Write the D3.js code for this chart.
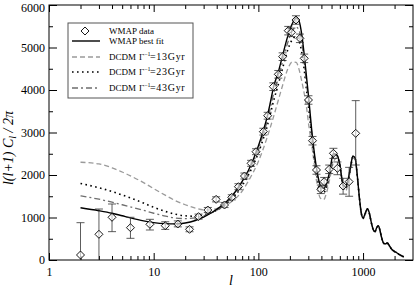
<!DOCTYPE html>
<html>
<head>
<meta charset="utf-8">
<script src="https://cdn.jsdelivr.net/npm/d3@7"></script>
<style>
  body { margin: 0; background: #fff; }
  svg { display: block; }
  text { font-family: "Liberation Serif", "Times New Roman", serif; }
</style>
</head>
<body>
<div id="chart"></div>
<script>
var width = 415;
var height = 288;

// WMAP binned data: multipole, value, error low / high
var dataL  = [2, 3, 4, 6, 9.2, 12.9, 17, 22, 26.8, 32.9, 39.5, 47.5, 55.7, 64.5, 73.6, 85.2, 95,
  111.6, 122.7, 139, 155, 170.5, 193, 207, 228.6, 249.5, 274, 301, 329, 359, 395, 425, 475, 521, 569, 645, 736, 851];
var dataV  = [118, 605, 1005, 760, 840, 807, 847, 722, 1020, 1176, 1427, 1294, 1475, 1725, 1976, 2275, 2548,
  3020, 3395, 4078, 4369, 4784, 5396, 5357, 5647, 5216, 4745, 3765, 2807, 2118, 1663, 1843, 2134, 2510, 2157, 1741, 1843, 2980];
var dataLo = [-700, -100, 667, 510, 706, 720, 780, 665, 960, 1116, 1367, 1234, 1415, 1655, 1906, 2205, 2478,
  2940, 3315, 3988, 4279, 4694, 5296, 5257, 5547, 5116, 4645, 3665, 2707, 2018, 1563, 1743, 2034, 2390, 2007, 1550, 1500, 2235];
var dataHi = [878, 1200, 1318, 1005, 957, 900, 920, 780, 1080, 1236, 1487, 1354, 1535, 1795, 2046, 2345, 2618,
  3100, 3475, 4168, 4459, 4874, 5496, 5457, 5747, 5316, 4845, 3865, 2907, 2218, 1763, 1943, 2234, 2628, 2307, 1922, 2180, 3750];

// model curves, sampled on a common multipole grid
var curveL = [2, 3, 4, 5, 6, 8, 10, 13, 16, 20, 25, 30, 35, 40, 50, 60, 70, 80, 90, 100,
  110, 120, 130, 140, 155, 170, 190, 210, 230, 245, 260, 275, 290, 300, 330, 360, 390, 420, 450, 480,
  520, 560, 600, 640, 680, 720, 760, 800, 840, 880, 920, 960, 1000, 1050, 1100, 1150, 1200, 1250, 1300, 1350,
  1400, 1450, 1500, 1580, 1650, 1700, 1800, 1900, 2000, 2100, 2250, 2450];
var bestFit = [1230, 1160, 1100, 1040, 990, 920, 880, 855, 850, 870, 930, 1010, 1100, 1190, 1380, 1600, 1850, 2100, 2380, 2680,
  3000, 3320, 3700, 4080, 4420, 4800, 5250, 5550, 5700, 5620, 5300, 4800, 4250, 3900, 2850, 2150, 1760, 1680, 1820, 2080,
  2500, 2480, 2250, 1800, 1720, 1900, 2200, 2450, 2400, 2000, 1500, 1120, 990, 1100, 1210, 1100, 880, 720, 670, 760,
  810, 700, 540, 390, 380, 405, 320, 240, 200, 170, 120, 75];
var dcdm13 = [2300, 2260, 2170, 2070, 1980, 1820, 1680, 1520, 1400, 1300, 1220, 1180, 1180, 1210, 1300, 1440, 1620, 1850, 2080, 2320,
  2580, 2850, 3120, 3380, 3760, 4100, 4480, 4660, 4650, 4480, 4200, 3900, 3550, 3250, 2550, 1850, 1460, 1420, 1600, 1900,
  2300, 2400, 2200, 1780, 1620, 1800, 2130, 2400, 2380, 1980, 1480, 1100, 970, 1080, 1190, 1080, 870, 710, 660, 750,
  800, 690, 530, 385, 375, 400, 315, 235, 195, 165, 118, 74];
var dcdm23 = [1800, 1700, 1610, 1530, 1460, 1340, 1240, 1140, 1080, 1040, 1030, 1060, 1110, 1170, 1330, 1520, 1750, 1990, 2250, 2520,
  2810, 3110, 3430, 3750, 4130, 4500, 4930, 5180, 5260, 5150, 4880, 4450, 3950, 3650, 2700, 2020, 1640, 1580, 1740, 2010,
  2420, 2460, 2230, 1790, 1700, 1860, 2170, 2430, 2390, 1990, 1490, 1110, 980, 1090, 1200, 1090, 875, 715, 665, 755,
  805, 695, 535, 388, 378, 402, 318, 238, 198, 168, 119, 75];
var dcdm43 = [1510, 1430, 1360, 1300, 1250, 1170, 1100, 1030, 990, 975, 990, 1040, 1100, 1170, 1350, 1560, 1800, 2050, 2320, 2600,
  2910, 3220, 3570, 3920, 4280, 4660, 5100, 5380, 5480, 5400, 5100, 4620, 4100, 3780, 2780, 2080, 1700, 1630, 1780, 2050,
  2460, 2480, 2240, 1800, 1710, 1880, 2190, 2440, 2395, 1995, 1495, 1115, 985, 1095, 1205, 1095, 878, 718, 668, 758,
  808, 698, 538, 389, 379, 404, 319, 239, 199, 169, 120, 75];

var xMajor = [1, 10, 100, 1000];
var yMajor = [0, 1000, 2000, 3000, 4000, 5000, 6000];

var legendLabels = ["WMAP data", "WMAP best fit", "13Gyr", "23Gyr", "43Gyr"];

var plot = {left: 49, right: 413, top: 5, bottom: 260};

var x = d3.scaleLog().domain([1, 3000]).range([plot.left, plot.right]);
var y = d3.scaleLinear().domain([0, 6000]).range([plot.bottom, plot.top]);

var svg = d3.select("#chart")
  .append("svg")
  .attr("width", width)
  .attr("height", height);

svg.append("defs").append("clipPath")
  .attr("id", "clip")
  .append("rect")
  .attr("x", plot.left).attr("y", plot.top)
  .attr("width", plot.right - plot.left)
  .attr("height", plot.bottom - plot.top);

// minor tick values
var xMinor = [];
[1, 10, 100, 1000].forEach(function (dec) {
  for (var k = 2; k <= 9; k++) {
    if (dec * k < 3000) xMinor.push(dec * k);
  }
});
var yMinor = d3.range(500, 6000, 1000);

function styleAxis(g) {
  g.select(".domain").remove();
  g.selectAll("line").attr("stroke", "#000");
  g.selectAll("text").attr("font-size", 12).attr("fill", "#000");
}

// bottom
svg.append("g").attr("transform", "translate(0," + plot.bottom + ")")
  .call(d3.axisBottom(x).tickValues(xMajor).tickSize(-7).tickPadding(7).tickFormat(d3.format("d")))
  .call(styleAxis);
svg.append("g").attr("transform", "translate(0," + plot.bottom + ")")
  .call(d3.axisBottom(x).tickValues(xMinor).tickSize(-4).tickFormat(""))
  .call(styleAxis);
// top
svg.append("g").attr("transform", "translate(0," + plot.top + ")")
  .call(d3.axisTop(x).tickValues(xMajor).tickSize(-7).tickFormat(""))
  .call(styleAxis);
svg.append("g").attr("transform", "translate(0," + plot.top + ")")
  .call(d3.axisTop(x).tickValues(xMinor).tickSize(-4).tickFormat(""))
  .call(styleAxis);
// left
var yAxisG = svg.append("g").attr("transform", "translate(" + plot.left + ",0)")
  .call(d3.axisLeft(y).tickValues(yMajor).tickSize(-8).tickPadding(4).tickFormat(d3.format("d")))
  .call(styleAxis);
// keep the top label inside the picture
yAxisG.selectAll(".tick text").filter(function (d) { return d === 6000; }).attr("dy", "0.55em");
svg.append("g").attr("transform", "translate(" + plot.left + ",0)")
  .call(d3.axisLeft(y).tickValues(yMinor).tickSize(-4).tickFormat(""))
  .call(styleAxis);
// right
svg.append("g").attr("transform", "translate(" + plot.right + ",0)")
  .call(d3.axisRight(y).tickValues(yMajor).tickSize(-8).tickFormat(""))
  .call(styleAxis);
svg.append("g").attr("transform", "translate(" + plot.right + ",0)")
  .call(d3.axisRight(y).tickValues(yMinor).tickSize(-4).tickFormat(""))
  .call(styleAxis);

// frame
svg.append("rect")
  .attr("x", plot.left).attr("y", plot.top)
  .attr("width", plot.right - plot.left)
  .attr("height", plot.bottom - plot.top)
  .attr("fill", "none")
  .attr("stroke", "#000")
  .attr("stroke-width", 1);

// curves
var lineGen = d3.line()
  .x(function (d) { return x(d[0]); })
  .y(function (d) { return y(d[1]); })
  .curve(d3.curveMonotoneX);

var styles = [
  {vals: dcdm13, color: "#9a9a9a", width: 1.3, dash: "5,3"},
  {vals: dcdm23, color: "#000", width: 1.6, dash: "1.6,3.4"},
  {vals: dcdm43, color: "#6e6e6e", width: 1.3, dash: "6,3,2,3"},
  {vals: bestFit, color: "#000", width: 1.4, dash: null}
];

var curves = svg.append("g").attr("clip-path", "url(#clip)");
styles.forEach(function (s) {
  curves.append("path")
    .datum(d3.zip(curveL, s.vals))
    .attr("d", lineGen)
    .attr("fill", "none")
    .attr("stroke", s.color)
    .attr("stroke-width", s.width)
    .attr("stroke-dasharray", s.dash);
});

// data points
var pts = d3.range(dataL.length).map(function (i) {
  return {l: dataL[i], v: dataV[i], lo: dataLo[i], hi: dataHi[i]};
});
var dg = svg.append("g").attr("clip-path", "url(#clip)");
var pg = dg.selectAll("g.pt").data(pts).enter().append("g").attr("class", "pt");
pg.append("line")
  .attr("x1", function (d) { return x(d.l); })
  .attr("x2", function (d) { return x(d.l); })
  .attr("y1", function (d) { return y(d.lo); })
  .attr("y2", function (d) { return y(d.hi); })
  .attr("stroke", "#333").attr("stroke-width", 0.8);
pg.append("line")
  .attr("x1", function (d) { return x(d.l) - 4; })
  .attr("x2", function (d) { return x(d.l) + 4; })
  .attr("y1", function (d) { return y(d.hi); })
  .attr("y2", function (d) { return y(d.hi); })
  .attr("stroke", "#333").attr("stroke-width", 0.8);
pg.append("line")
  .attr("x1", function (d) { return x(d.l) - 4; })
  .attr("x2", function (d) { return x(d.l) + 4; })
  .attr("y1", function (d) { return y(d.lo); })
  .attr("y2", function (d) { return y(d.lo); })
  .attr("stroke", "#333").attr("stroke-width", 0.8);
pg.append("path")
  .attr("d", function (d) {
    var cx = x(d.l), cy = y(d.v), r = 4;
    return "M" + cx + "," + (cy - r) + "L" + (cx + r) + "," + cy + "L" + cx + "," + (cy + r) + "L" + (cx - r) + "," + cy + "Z";
  })
  .attr("fill", "#fff")
  .attr("fill-opacity", 0.6)
  .attr("stroke", "#000")
  .attr("stroke-width", 0.9);

// legend
var lg = svg.append("g");
lg.append("rect")
  .attr("x", 68).attr("y", 23).attr("width", 125).attr("height", 75)
  .attr("fill", "#fff").attr("stroke", "#555").attr("stroke-width", 1);

var rowY = [31, 41, 57, 72, 88];
lg.append("path")
  .attr("d", "M85," + (rowY[0] - 4) + "L89," + rowY[0] + "L85," + (rowY[0] + 4) + "L81," + rowY[0] + "Z")
  .attr("fill", "#fff").attr("stroke", "#000").attr("stroke-width", 0.9);
[3, 0, 1, 2].forEach(function (si, k) {
  var s = styles[si];
  lg.append("line")
    .attr("x1", 72).attr("x2", 100)
    .attr("y1", rowY[k + 1]).attr("y2", rowY[k + 1])
    .attr("stroke", s.color).attr("stroke-width", s.width)
    .attr("stroke-dasharray", s.dash);
});

legendLabels.forEach(function (lab, i) {
  var t = lg.append("text")
    .attr("x", 109).attr("y", rowY[i] + 3)
    .attr("font-size", 9).attr("fill", "#000");
  if (i < 2) {
    t.text(lab);
  } else {
    t.append("tspan").text("DCDM");
    t.append("tspan").attr("x", 139).text("\u0393");
    t.append("tspan").attr("font-size", 6).attr("dy", -4).text("\u22121");
    t.append("tspan").attr("x", 150).attr("dy", 4)
      .attr("font-size", 10).attr("letter-spacing", 0.7)
      .text("=" + lab);
  }
});

// axis titles
svg.append("text")
  .attr("x", 231).attr("y", 285)
  .attr("text-anchor", "middle")
  .attr("font-size", 14).attr("font-style", "italic")
  .text("l");

var yt = svg.append("text")
  .attr("transform", "translate(13,148) rotate(-90)")
  .attr("text-anchor", "middle")
  .attr("font-size", 14).attr("font-style", "italic");
yt.append("tspan").text("l(l+1) C");
yt.append("tspan").attr("font-size", 10).attr("dy", 3).text("l");
yt.append("tspan").attr("dy", -3).text(" / 2\u03c0");
</script>
</body>
</html>
